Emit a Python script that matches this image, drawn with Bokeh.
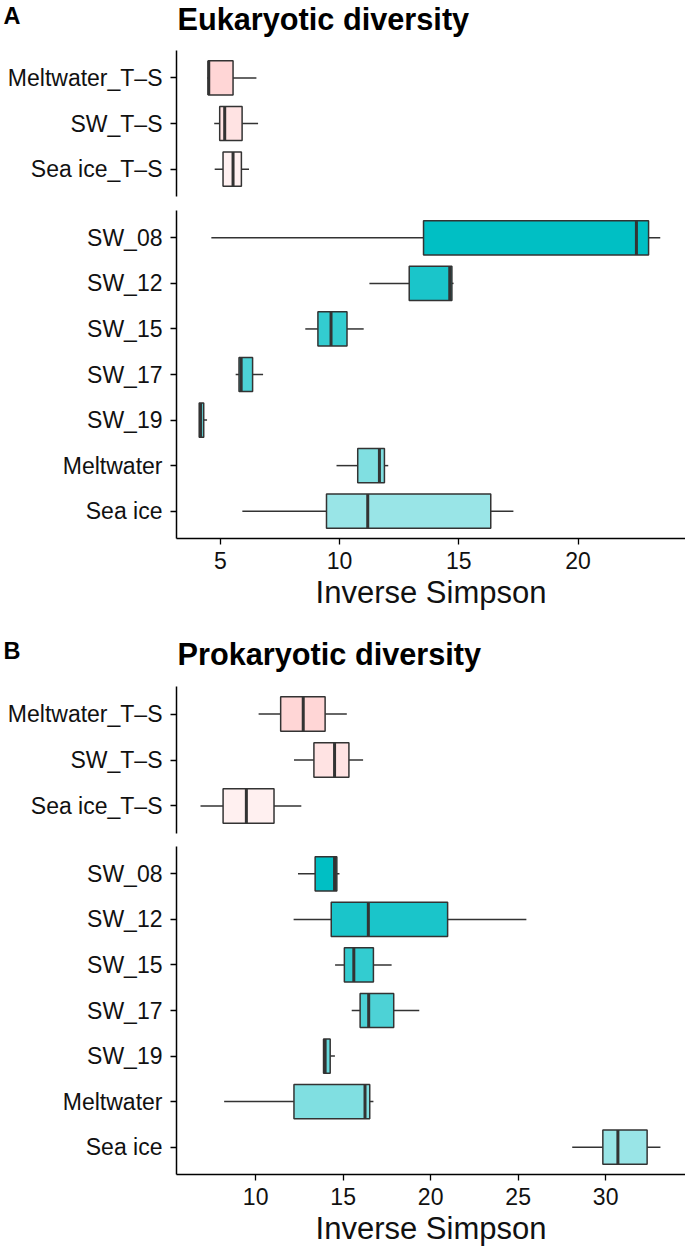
from bokeh.plotting import figure
from bokeh.layouts import column
from bokeh.models import Range1d, FixedTicker, Label, ColumnDataSource
from bokeh.embed import file_html
from bokeh.resources import INLINE

FONT = "Liberation Sans"

# ---------------- data ----------------
ts_cats = ["Meltwater_T–S", "SW_T–S", "Sea ice_T–S"]
site_cats = ["SW_08", "SW_12", "SW_15", "SW_17", "SW_19", "Meltwater", "Sea ice"]

ts_colors = ["#FFD6D6", "#FFE3E3", "#FFF0F0"]
site_colors = ["#00BFC4", "#1AC5CA", "#33CCD0", "#4DD2D6", "#66D9DC", "#80DFE1", "#99E5E7"]

# Eukaryotic diversity (Inverse Simpson): whisker low, Q1, median, Q3, whisker high
euk_ts_lo = [4.45, 4.74, 4.76]
euk_ts_q1 = [4.49, 4.97, 5.11]
euk_ts_med = [4.51, 5.18, 5.53]
euk_ts_q3 = [5.53, 5.91, 5.88]
euk_ts_hi = [6.51, 6.58, 6.20]

euk_site_lo = [4.62, 11.25, 8.56, 5.64, 4.11, 9.87, 5.92]
euk_site_q1 = [13.52, 12.92, 9.09, 5.78, 4.11, 10.76, 9.45]
euk_site_med = [22.45, 14.62, 9.64, 5.87, 4.17, 11.67, 11.18]
euk_site_q3 = [22.96, 14.71, 10.31, 6.35, 4.30, 11.88, 16.34]
euk_site_hi = [23.45, 14.78, 11.01, 6.79, 4.44, 12.04, 17.29]

# Prokaryotic diversity
pro_ts_lo = [10.17, 12.19, 6.85]
pro_ts_q1 = [11.43, 13.33, 8.14]
pro_ts_med = [12.72, 14.51, 9.47]
pro_ts_q3 = [13.97, 15.33, 11.05]
pro_ts_hi = [15.21, 16.14, 12.61]

pro_site_lo = [12.42, 12.17, 14.54, 15.49, 13.88, 8.20, 28.09]
pro_site_q1 = [13.40, 14.32, 15.07, 15.97, 13.88, 12.19, 29.84]
pro_site_med = [14.51, 16.44, 15.61, 16.46, 13.97, 16.25, 30.70]
pro_site_q3 = [14.64, 20.97, 16.73, 17.89, 14.26, 16.52, 32.37]
pro_site_hi = [14.79, 25.47, 17.77, 19.35, 14.53, 16.73, 33.13]

euk_xticks = [5, 10, 15, 20]
pro_xticks = [10, 15, 20, 25, 30]
x_title = "Inverse Simpson"

# ---------------- helpers ----------------
LINE = "#333333"
TXT = "#111111"
W = 685
LEFT = 175


def make_panel(cats, colors, lo, q1, med, q3, hi, xr, height, btop, bbot, xticks=None):
    n = len(cats)
    ypos = [n - 1 - i for i in range(n)]
    src = ColumnDataSource(dict(y=ypos, lo=lo, q1=q1, med=med, q3=q3, hi=hi, color=colors))
    kw = dict(width=W, height=height, x_range=xr, y_range=Range1d(-0.6, n - 0.4),
              output_backend="svg", toolbar_location=None,
              min_border_left=LEFT, min_border_right=0,
              min_border_top=btop, min_border_bottom=bbot)
    if xticks is None:
        kw["x_axis_location"] = None
    p = figure(**kw)
    p.outline_line_color = None
    p.xgrid.visible = False
    p.ygrid.visible = False
    p.background_fill_color = "white"

    p.segment(x0="lo", y0="y", x1="q1", y1="y", source=src, line_color=LINE, line_width=1.5)
    p.segment(x0="q3", y0="y", x1="hi", y1="y", source=src, line_color=LINE, line_width=1.5)
    p.hbar(y="y", left="q1", right="q3", height=0.75, source=src,
           fill_color="color", line_color=LINE, line_width=1.5)
    p.rect(x="med", y="y", width=3, width_units="screen", height=0.75, source=src,
           fill_color=LINE, line_color=None)

    ya = p.yaxis[0]
    ya.ticker = FixedTicker(ticks=ypos)
    ya.major_label_overrides = {y: c for y, c in zip(ypos, cats)}
    ya.minor_tick_line_color = None
    ya.major_tick_in = 0
    ya.major_tick_out = 6
    ya.major_tick_line_width = 1.3
    ya.major_tick_line_color = "black"
    ya.axis_line_color = "black"
    ya.axis_line_width = 1.5
    ya.major_label_standoff = 8
    ya.major_label_text_font = FONT
    ya.major_label_text_font_size = "23px"
    ya.major_label_text_color = TXT

    if xticks is not None:
        xa = p.xaxis[0]
        xa.ticker = FixedTicker(ticks=xticks)
        xa.minor_tick_line_color = None
        xa.major_tick_in = 0
        xa.major_tick_out = 6
        xa.major_tick_line_width = 1.3
        xa.major_tick_line_color = "black"
        xa.axis_line_color = "black"
        xa.axis_line_width = 1.5
        xa.major_label_standoff = 7
        xa.major_label_text_font = FONT
        xa.major_label_text_font_size = "23px"
        xa.major_label_text_color = TXT
        xa.axis_label = x_title
        xa.axis_label_standoff = 3
        xa.axis_label_text_font = FONT
        xa.axis_label_text_font_size = "31px"
        xa.axis_label_text_font_style = "normal"
        xa.axis_label_text_color = TXT
    return p


def make_heading(letter, title, height, letter_mid, title_y):
    # frame spans the area right of the shared left border; the panel letter
    # sits in the left border as the (only) tick label of an invisible y axis
    h = figure(width=W, height=height, x_range=Range1d(0, W - LEFT), y_range=Range1d(height, 0),
               x_axis_location=None, y_axis_location="left", title=None,
               output_backend="svg", toolbar_location=None,
               min_border_left=LEFT, min_border_right=0, min_border_top=0, min_border_bottom=0)
    h.outline_line_color = None
    h.xgrid.visible = False
    h.ygrid.visible = False
    ya = h.yaxis[0]
    ya.ticker = FixedTicker(ticks=[letter_mid])
    ya.major_label_overrides = {letter_mid: letter}
    ya.axis_line_color = None
    ya.major_tick_line_color = None
    ya.minor_tick_line_color = None
    ya.major_tick_in = 0
    ya.major_tick_out = 0
    ya.major_label_standoff = 156
    ya.major_label_text_font = FONT
    ya.major_label_text_font_size = "23.5px"
    ya.major_label_text_font_style = "bold"
    ya.major_label_text_color = "black"
    h.add_layout(Label(x=1, y=title_y, text=title, text_font=FONT,
                       text_font_size="30.7px", text_font_style="bold",
                       text_color="black", text_baseline="alphabetic"))
    return h


euk_x = Range1d(3.158, 24.509)
pro_x = Range1d(5.478, 34.563)

ha = make_heading("A", "Eukaryotic diversity", 40, 15.0, 18.8)
a1 = make_panel(ts_cats, ts_colors, euk_ts_lo, euk_ts_q1, euk_ts_med, euk_ts_q3, euk_ts_hi,
                euk_x, 163, 10, 7)
a2 = make_panel(site_cats, site_colors, euk_site_lo, euk_site_q1, euk_site_med, euk_site_q3,
                euk_site_hi, euk_x, 423, 7, 88, euk_xticks)
hb = make_heading("B", "Prokaryotic diversity", 50, 24.5, 28.2)
b1 = make_panel(ts_cats, ts_colors, pro_ts_lo, pro_ts_q1, pro_ts_med, pro_ts_q3, pro_ts_hi,
                pro_x, 164, 10, 7)
b2 = make_panel(site_cats, site_colors, pro_site_lo, pro_site_q1, pro_site_med, pro_site_q3,
                pro_site_hi, pro_x, 414, 6, 80, pro_xticks)

layout = column(ha, a1, a2, hb, b1, b2, spacing=0)
open("out.html", "w").write(file_html(layout, INLINE))
